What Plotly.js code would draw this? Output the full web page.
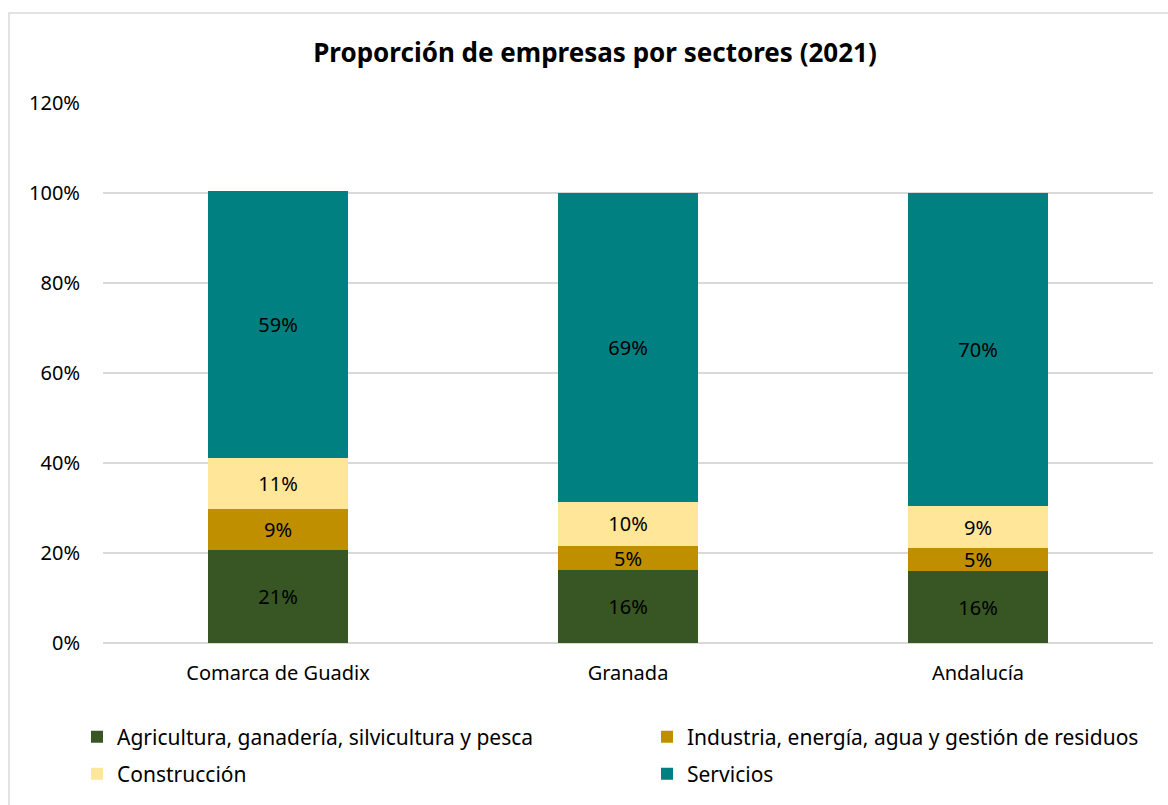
<!DOCTYPE html>
<html>
<head>
<meta charset="utf-8">
<script src="https://cdn.plot.ly/plotly-3.0.1.min.js"></script>
<style>
  html, body { margin: 0; padding: 0; background: #fff; }
  #chart { width: 1168px; height: 805px; }
</style>
</head>
<body>
<div id="chart"></div>
<script>
const categories = ["Comarca de Guadix", "Granada", "Andalucía"];
const seriesNames = [
  "Agricultura, ganadería, silvicultura y pesca",
  "Industria, energía, agua y gestión de residuos",
  "Construcción",
  "Servicios"
];
const agricultura = [0.206, 0.162, 0.160];
const industria = [0.091, 0.053, 0.051];
const construccion = [0.114, 0.099, 0.093];
const servicios = [0.594, 0.686, 0.696];
const yTickVals = [0, 0.2, 0.4, 0.6, 0.8, 1.0, 1.2];
const yTickText = ["0%", "20%", "40%", "60%", "80%", "100%", "120%"];

const colors = ["#375623", "#BF8F00", "#FFE699", "#008080"];
const seriesValues = [agricultura, industria, construccion, servicios];
const legendRefs = ["legend", "legend", "legend2", "legend2"];
const FONT = "'Noto Sans', sans-serif";

const traces = seriesValues.map((vals, i) => ({
  type: "bar",
  name: seriesNames[i],
  x: categories,
  y: vals,
  width: 0.4,
  legend: legendRefs[i],
  marker: { color: colors[i], line: { width: 0 } },
  texttemplate: "%{y:.0%}",
  textposition: "inside",
  insidetextanchor: "middle",
  textangle: 0,
  constraintext: "none",
  textfont: { family: FONT, size: 20, color: "#000" },
  hoverinfo: "x+y+name"
}));

const L = 103, R = 15, T = 103, B = 162;
const W = 1168, H = 805;
const pw = W - L - R, ph = H - T - B;
const px2x = p => (p - L) / pw;
const py2y = p => (H - B - p) / ph;

const legendBase = {
  orientation: "h",
  traceorder: "normal",
  x: px2x(77), xanchor: "left",
  yanchor: "middle",
  entrywidth: 525,
  entrywidthmode: "pixels",
  itemwidth: 30,
  font: { family: FONT, size: 21, color: "#000" },
  bgcolor: "rgba(0,0,0,0)"
};

const layout = {
  width: W, height: H,
  margin: { l: L, r: R, t: T, b: B, pad: 0, autoexpand: false },
  paper_bgcolor: "#fff",
  plot_bgcolor: "#fff",
  barmode: "stack",
  font: { family: FONT, size: 21, color: "#000" },
  title: {
    text: "<b>Proporción de empresas por sectores (2021)</b>",
    font: { family: FONT, size: 26, color: "#000" },
    x: 595 / W, xanchor: "center", xref: "container",
    y: 1 - 53 / H, yanchor: "middle"
  },
  xaxis: {
    type: "category",
    showgrid: false,
    showline: false,
    zeroline: false,
    ticks: "",
    ticklabelstandoff: 16,
    tickfont: { family: FONT, size: 20, color: "#000" },
    fixedrange: true
  },
  yaxis: {
    range: [0, 1.2],
    tickvals: yTickVals,
    ticktext: yTickText,
    showgrid: true,
    gridcolor: "#d9d9d9",
    gridwidth: 1.5,
    zeroline: true,
    zerolinecolor: "#d9d9d9",
    zerolinewidth: 1.5,
    showline: false,
    ticks: "",
    ticklabelstandoff: 22,
    tickfont: { family: FONT, size: 20, color: "#000" },
    fixedrange: true
  },
  showlegend: true,
  legend: Object.assign({}, legendBase, { y: py2y(737) }),
  legend2: Object.assign({}, legendBase, { y: py2y(774) }),
  shapes: [{
    type: "rect", xref: "paper", yref: "paper",
    x0: px2x(9), x1: px2x(1175), y0: py2y(812), y1: py2y(13),
    line: { color: "#d9d9d9", width: 1.5 },
    fillcolor: "rgba(0,0,0,0)",
    layer: "below"
  }]
};

Plotly.newPlot("chart", traces, layout, { displayModeBar: false, staticPlot: true });
</script>
</body>
</html>
